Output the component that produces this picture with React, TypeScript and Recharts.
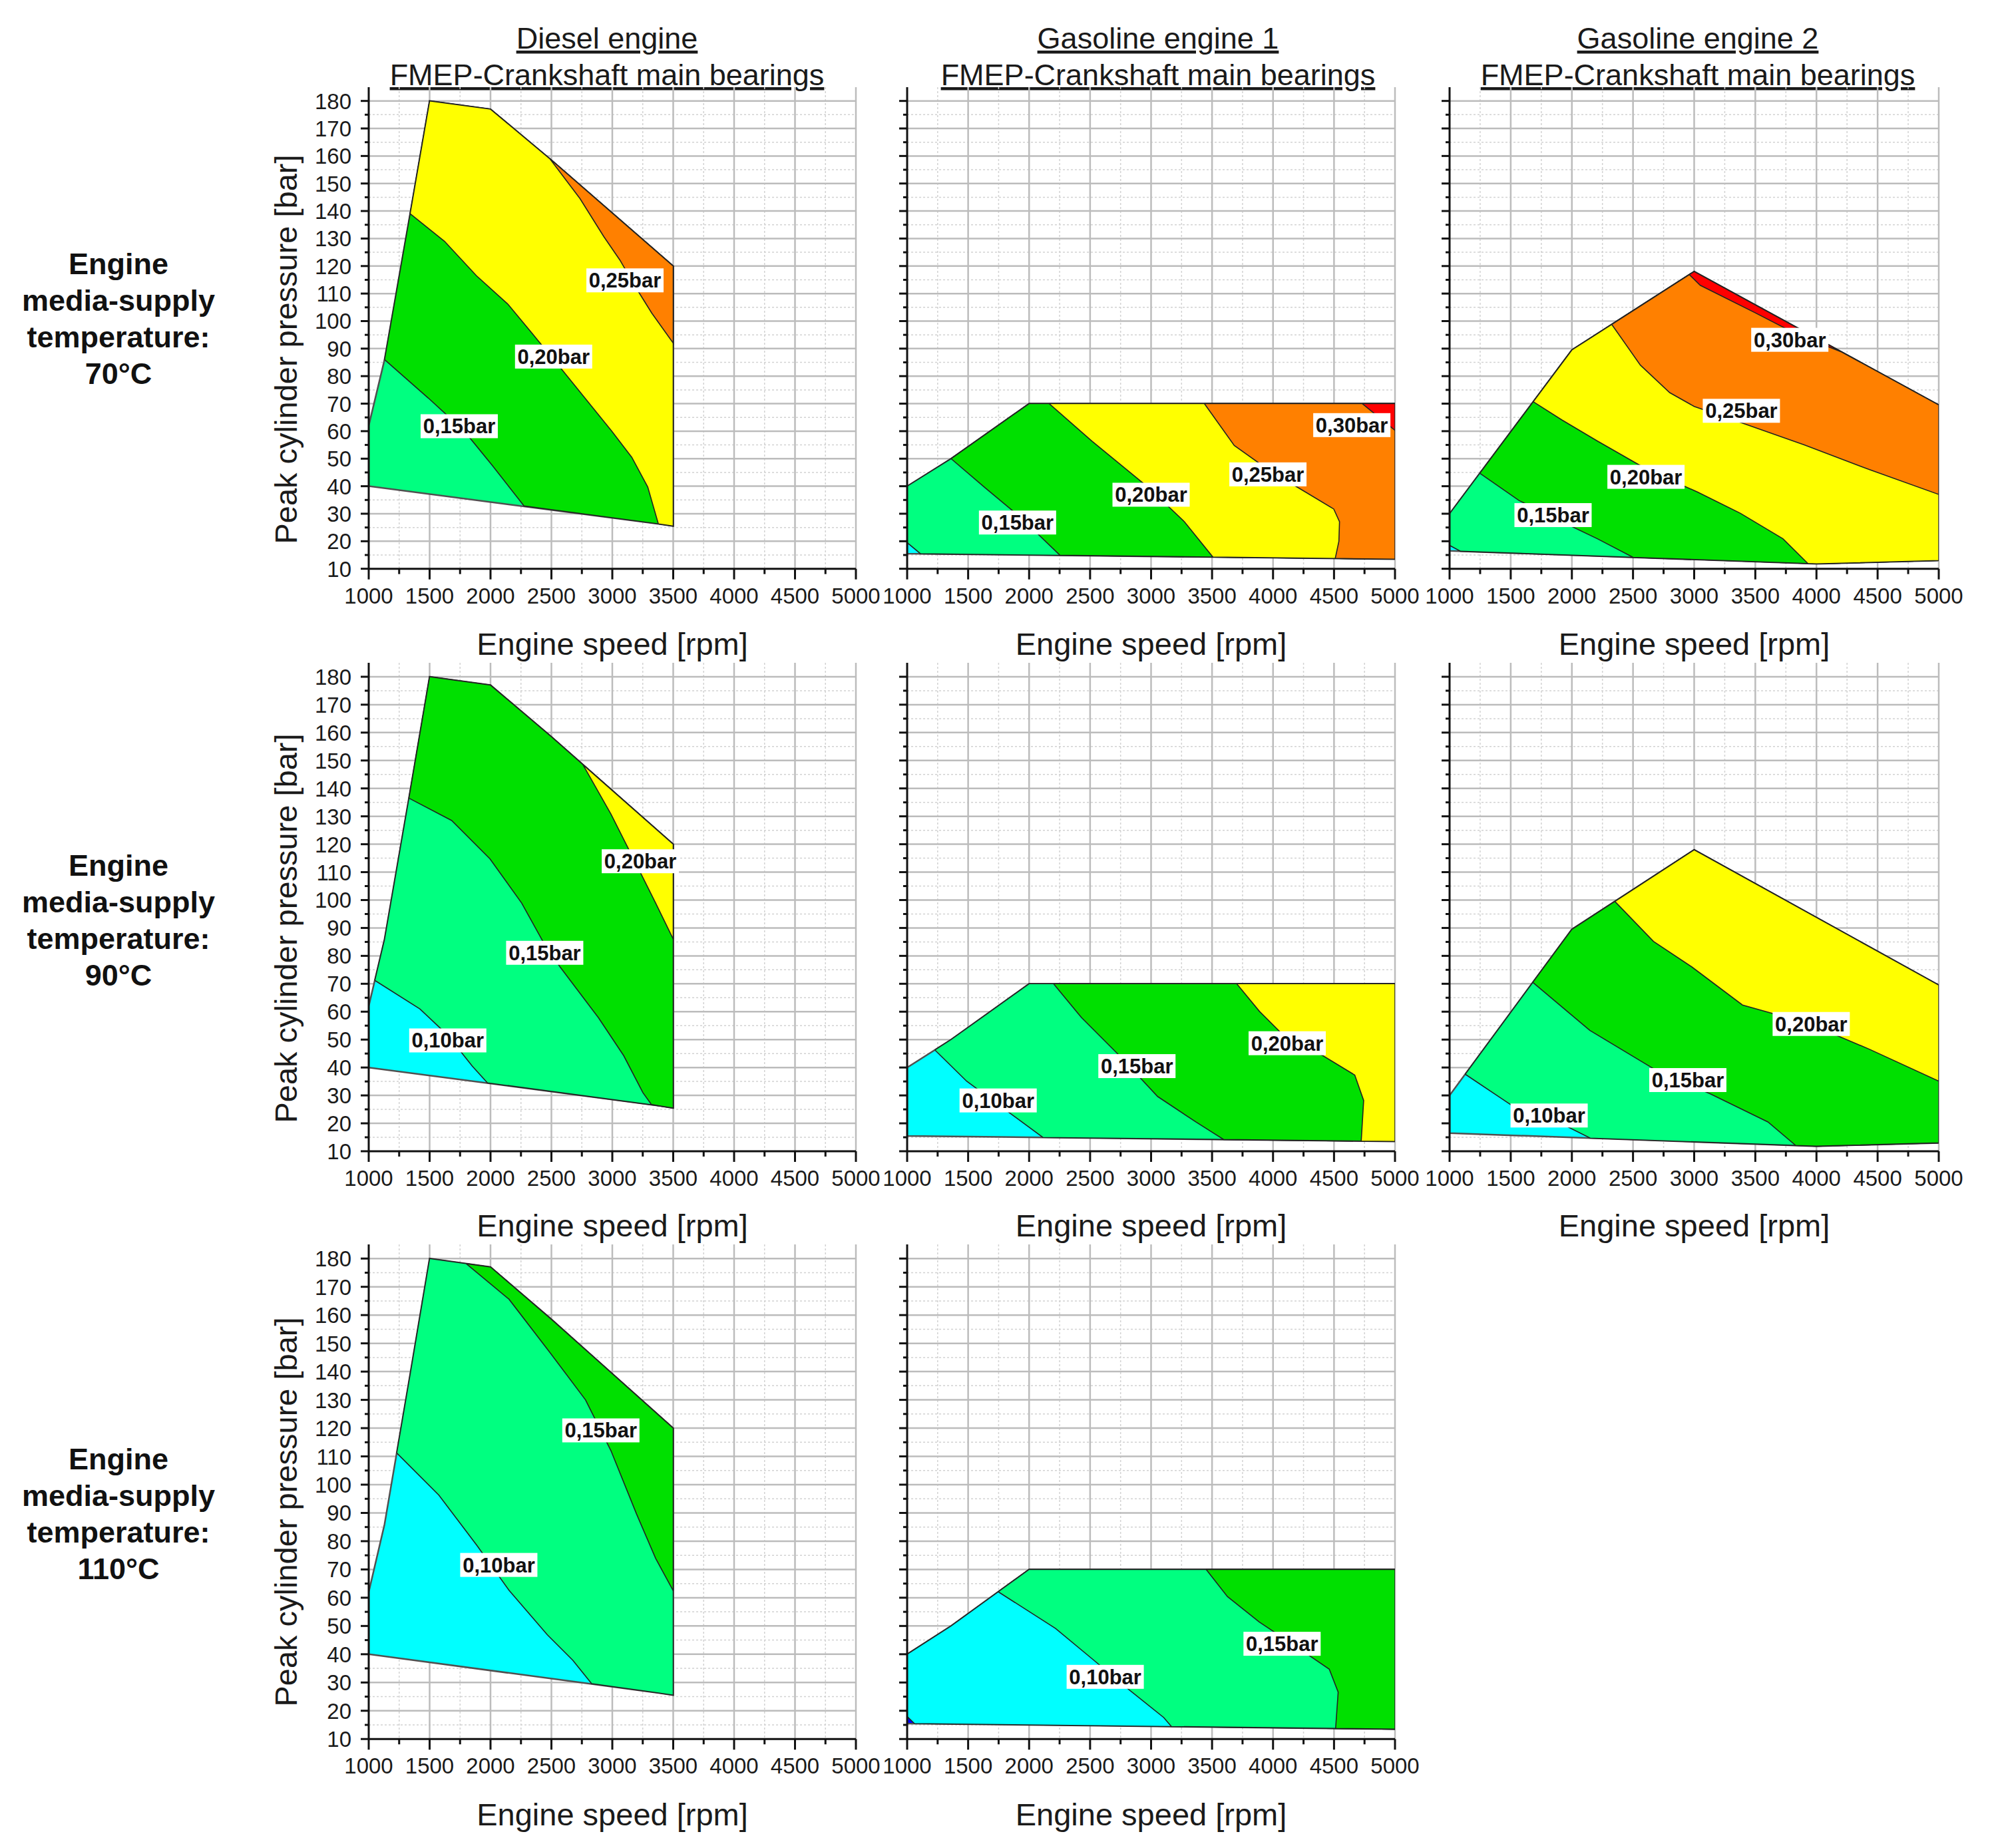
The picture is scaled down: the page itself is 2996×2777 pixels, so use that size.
import React from "react";
import { ComposedChart, Area, Scatter, XAxis, YAxis, CartesianGrid } from "recharts";

type Pt = [number, number];

const FONT = "'Liberation Sans', Arial, Helvetica, sans-serif";

// axis ticks
const speedTicks = [1000, 1500, 2000, 2500, 3000, 3500, 4000, 4500, 5000];
const speedMinor = [1250, 1750, 2250, 2750, 3250, 3750, 4250, 4750];
const pressureTicks = [10, 20, 30, 40, 50, 60, 70, 80, 90, 100, 110, 120, 130, 140, 150, 160, 170, 180];
const pressureMinor = [15, 25, 35, 45, 55, 65, 75, 85, 95, 105, 115, 125, 135, 145, 155, 165, 175];

const titles = [
  ["Diesel engine", "FMEP-Crankshaft main bearings"],
  ["Gasoline engine 1", "FMEP-Crankshaft main bearings"],
  ["Gasoline engine 2", "FMEP-Crankshaft main bearings"],
];
const temps = ["70°C", "90°C", "110°C"];

// measured map outlines (rpm, bar), counter-clockwise from bottom-left
const dieselEdge: Pt[] = [[1000, 40], [3380, 26.3], [3500, 25.5], [3500, 120], [2500, 158.5], [2000, 177], [1500, 180], [1340, 139], [1130, 86], [1000, 62]];
const gas1Edge: Pt[] = [[1000, 15.5], [5000, 13.5], [5000, 70], [2000, 70], [1360, 50], [1000, 40]];
const gas2Edge: Pt[] = [[1000, 16.5], [4000, 11.8], [5000, 13], [5000, 69.5], [3000, 118], [2000, 89.5], [1000, 30]];

// iso-FMEP lines, diesel
const d70c15: Pt[] = [[1130, 86], [1490, 72], [1785, 60], [2015, 47.5], [2276, 32.8]];
const d70c20: Pt[] = [[1340, 139], [1622, 129], [1884, 116.5], [2146, 106], [2342, 95.5], [2538, 85], [2767, 72.5], [2996, 60], [3160, 50.5], [3291, 39.7], [3378, 26.3]];
const d70c25: Pt[] = [[2489, 158.9], [2735, 144.5], [2930, 130.7], [3062, 122.2], [3193, 112.2], [3324, 102.9], [3500, 92]];
const d90c10: Pt[] = [[1050, 71.2], [1420, 61], [1650, 51.5], [1850, 40.5], [1975, 34.5]];
const d90c15: Pt[] = [[1330, 136.5], [1681, 128.5], [1995, 114.8], [2256, 98.9], [2445, 84], [2570, 76.1], [2885, 57.9], [3094, 44.2], [3251, 31], [3320, 26.8]];
const d90c20: Pt[] = [[2759, 148.5], [2989, 130.8], [3199, 112.6], [3356, 98.9], [3500, 86]];
const d110c10: Pt[] = [[1230, 111.2], [1576, 96.3], [1890, 78.4], [2152, 62.6], [2466, 46.9], [2675, 37.9], [2830, 29.6]];
const d110c15: Pt[] = [[1800, 178.2], [2152, 165.6], [2466, 148], [2780, 130], [2989, 112], [3199, 89.6], [3356, 73.9], [3500, 62.5]];

// gasoline engine 1
const g70c10: Pt[] = [[1000, 19.5], [1110, 15.45]];
const g70c15: Pt[] = [[1360, 50], [1640, 39.4], [1932, 28.6], [2253, 14.9]];
const g70c20: Pt[] = [[2165, 70], [2515, 56.4], [2982, 39.4], [3273, 27.1], [3507, 14.25]];
const g70c25: Pt[] = [[3437, 70], [3682, 54.8], [3974, 45.6], [4265, 37.9], [4498, 31.7], [4545, 27.1], [4540, 20], [4510, 13.75]];
const g70c30: Pt[] = [[4732, 70], [5000, 60.3]];
const g90c10: Pt[] = [[1227, 46.3], [1488, 35.1], [1801, 25], [2113, 14.95]];
const g90c15: Pt[] = [[2200, 70], [2429, 57.9], [2742, 44.2], [3054, 29.6], [3367, 20.5], [3596, 14.2]];
const g90c20: Pt[] = [[3702, 70], [3889, 60.1], [4098, 51], [4410, 44.2], [4670, 37.3], [4743, 28.2], [4723, 13.64]];
const g110c05: Pt[] = [[1000, 18], [1060, 15.47]];
const g110c10: Pt[] = [[1747, 62.1], [2217, 49.1], [2530, 37.9], [2843, 26.6], [3104, 17.6], [3167, 14.42]];
const g110c15: Pt[] = [[3452, 70], [3626, 60.4], [3887, 51.4], [4200, 42.4], [4461, 34.7], [4534, 26.6], [4513, 13.74]];

// gasoline engine 2
const h70c10: Pt[] = [[1000, 18.5], [1090, 16.36]];
const h70c15: Pt[] = [[1247, 44.7], [1568, 34.8], [1918, 27.1], [2209, 20.9], [2500, 14.15]];
const h70c20: Pt[] = [[1684, 70.7], [1918, 64.1], [2209, 56.4], [2618, 46], [3026, 37.9], [3376, 30.2], [3726, 20.9], [3930, 11.9]];
const h70c25: Pt[] = [[2326, 98.8], [2560, 84], [2800, 74], [3000, 69], [3390, 63], [3900, 55], [4435, 46], [5000, 37]];
const h70c30: Pt[] = [[2960, 116.9], [3050, 113], [3500, 103], [3850, 95], [4200, 88.9]];
const h90c10: Pt[] = [[1128, 37.6], [1523, 26], [1887, 20.5], [2150, 14.7]];
const h90c15: Pt[] = [[1680, 70.5], [2147, 53.3], [2667, 39.6], [3135, 30.5], [3603, 20.5], [3830, 12.07]];
const h90c20: Pt[] = [[2352, 99.5], [2667, 85.2], [2979, 76.1], [3395, 62.4], [3946, 55.6], [4435, 46.5], [5000, 35.1]];

// contour labels
const d70Labels = [{ x: 1743, y: 61.8, text: "0,15bar" }, { x: 2518, y: 87.1, text: "0,20bar" }, { x: 3104, y: 114.8, text: "0,25bar" }];
const d90Labels = [{ x: 1649, y: 49.7, text: "0,10bar" }, { x: 2445, y: 81.1, text: "0,15bar" }, { x: 3230, y: 113.9, text: "0,20bar" }];
const d110Labels = [{ x: 2068, y: 71.6, text: "0,10bar" }, { x: 2906, y: 119.2, text: "0,15bar" }];
const g70Labels = [{ x: 1905, y: 26.8, text: "0,15bar" }, { x: 3000, y: 36.9, text: "0,20bar" }, { x: 3958, y: 44.3, text: "0,25bar" }, { x: 4646, y: 62.2, text: "0,30bar" }];
const g90Labels = [{ x: 1746, y: 28.2, text: "0,10bar" }, { x: 2884, y: 40.5, text: "0,15bar" }, { x: 4116, y: 48.7, text: "0,20bar" }];
const g110Labels = [{ x: 2624, y: 32.0, text: "0,10bar" }, { x: 4074, y: 43.7, text: "0,15bar" }];
const h70Labels = [{ x: 1846, y: 29.5, text: "0,15bar" }, { x: 2606, y: 43.4, text: "0,20bar" }, { x: 3386, y: 67.4, text: "0,25bar" }, { x: 3782, y: 93.2, text: "0,30bar" }];
const h90Labels = [{ x: 1814, y: 22.8, text: "0,10bar" }, { x: 2948, y: 35.5, text: "0,15bar" }, { x: 3957, y: 55.6, text: "0,20bar" }];

const FILL: Record<string, string> = {
  blue: "#0000ff",
  cyan: "#00ffff",
  mint: "#00ff80",
  green: "#00e000",
  yellow: "#ffff00",
  orange: "#ff8000",
  red: "#ff0000",
};

type Band = [Pt[], number, number, string];
const panels: { row: number; col: number; edge: Pt[]; base: string; bands: Band[]; labels: { x: number; y: number; text: string }[] }[] = [
  { row: 0, col: 0, edge: dieselEdge, base: "mint", bands: [[d70c15, 1, 7, "green"], [d70c20, 1, 6, "yellow"], [d70c25, 3, 4, "orange"]], labels: d70Labels },
  { row: 0, col: 1, edge: gas1Edge, base: "cyan", bands: [[g70c10, 1, 5, "mint"], [g70c15, 1, 3, "green"], [g70c20, 1, 2, "yellow"], [g70c25, 1, 2, "orange"], [g70c30, 2, 2, "red"]], labels: g70Labels },
  { row: 0, col: 2, edge: gas2Edge, base: "cyan", bands: [[h70c10, 1, 6, "mint"], [h70c15, 1, 5, "green"], [h70c20, 1, 5, "yellow"], [h70c25, 3, 4, "orange"], [h70c30, 4, 4, "red"]], labels: h70Labels },
  { row: 1, col: 0, edge: dieselEdge, base: "cyan", bands: [[d90c10, 1, 8, "mint"], [d90c15, 1, 7, "green"], [d90c20, 3, 3, "yellow"]], labels: d90Labels },
  { row: 1, col: 1, edge: gas1Edge, base: "cyan", bands: [[g90c10, 1, 4, "mint"], [g90c15, 1, 2, "green"], [g90c20, 1, 2, "yellow"]], labels: g90Labels },
  { row: 1, col: 2, edge: gas2Edge, base: "cyan", bands: [[h90c10, 1, 5, "mint"], [h90c15, 1, 5, "green"], [h90c20, 3, 4, "yellow"]], labels: h90Labels },
  { row: 2, col: 0, edge: dieselEdge, base: "cyan", bands: [[d110c10, 1, 7, "mint"], [d110c15, 3, 5, "green"]], labels: d110Labels },
  { row: 2, col: 1, edge: gas1Edge, base: "blue", bands: [[g110c05, 1, 5, "cyan"], [g110c10, 1, 3, "mint"], [g110c15, 1, 2, "green"]], labels: g110Labels },
];

// page layout (px)
const ROWS = [
  { y180: 152, y10: 855 },
  { y180: 1017, y10: 1730 },
  { y180: 1891, y10: 2613 },
];
const COLS = [
  { x0: 554, x1: 1286 },
  { x0: 1363, x1: 2096 },
  { x0: 2178, x1: 2913 },
];
const titleX = [912, 1740, 2551];
const rowLabelY = [412, 1316, 2208];
const yLabelY = [525, 1395, 2272];
const xLabelY = [984, 1858, 2743];

// close a band: iso-line, then the outline from vertex `from` to `to`
function band(line: Pt[], edge: Pt[], from: number, to: number): Pt[] {
  const ring = [...line];
  for (let i = from; ; i = (i + 1) % edge.length) {
    ring.push(edge[i]);
    if (i === to) break;
  }
  ring.push(line[0]);
  return ring;
}

const rows = (ring: Pt[]) => ring.map(([x, y]) => ({ x, y }));

const allSpeed = [...speedTicks, ...speedMinor].sort((a, b) => a - b);
const allPressure = [...pressureTicks, ...pressureMinor].sort((a, b) => a - b);

function SpeedTick(props: any) {
  const { x, y, payload } = props;
  const major = speedTicks.includes(payload.value);
  return (
    <g>
      <line x1={x} x2={x} y1={y} y2={y + (major ? 16 : 8)} stroke="#111" strokeWidth={3} />
      {major && (
        <text x={x} y={y + 52} textAnchor="middle" fontSize={33} fill="#1a1a1a" fontFamily={FONT}>
          {payload.value}
        </text>
      )}
    </g>
  );
}

function PressureTick(props: any) {
  const { x, y, payload, showLabel } = props;
  const major = pressureTicks.includes(payload.value);
  return (
    <g>
      <line x1={x - (major ? 12 : 6)} x2={x} y1={y} y2={y} stroke="#111" strokeWidth={3} />
      {major && showLabel && (
        <text x={x - 26} y={y + 12} textAnchor="end" fontSize={33} fill="#1a1a1a" fontFamily={FONT}>
          {payload.value}
        </text>
      )}
    </g>
  );
}

function ContourLabel(props: any) {
  const { cx, cy, payload } = props;
  return (
    <g>
      <rect x={cx - 58} y={cy - 18} width={116} height={36} fill="#fff" />
      <text x={cx} y={cy + 11} textAnchor="middle" fontSize={31} fontWeight="bold" fill="#111" fontFamily={FONT}>
        {payload.text}
      </text>
    </g>
  );
}

function Panel({ cfg }: { cfg: (typeof panels)[number] }) {
  const r = ROWS[cfg.row];
  const c = COLS[cfg.col];
  const ppb = (r.y10 - r.y180) / 170;
  const top = r.y180 - 5 * ppb;
  const plotH = r.y10 - top;
  const plotW = c.x1 - c.x0;
  const YW = 110, MT = 10, MR = 60, XH = 70;

  const polys = [
    { pts: rows([...cfg.edge, cfg.edge[0]]), color: FILL[cfg.base], stroke: "#505050", sw: 2.5 },
    ...cfg.bands.map(([line, from, to, color]) => ({
      pts: rows(band(line, cfg.edge, from, to)),
      color: FILL[color],
      stroke: "#222",
      sw: 1.6,
    })),
  ];

  return (
    <div style={{ position: "absolute", left: c.x0 - YW, top: top - MT }}>
      <ComposedChart width={YW + plotW + MR} height={MT + plotH + XH} margin={{ top: MT, right: MR, left: 0, bottom: 0 }}>
        <CartesianGrid horizontalValues={pressureMinor} verticalValues={speedMinor} stroke="#d2d2d2" strokeDasharray="3 3" strokeWidth={1.5} />
        <CartesianGrid horizontalValues={pressureTicks.slice(1)} verticalValues={speedTicks.slice(1)} stroke="#bcbcbc" strokeWidth={2.5} />
        <XAxis
          type="number"
          dataKey="x"
          domain={[1000, 5000]}
          allowDataOverflow
          ticks={allSpeed}
          interval={0}
          tickSize={0}
          tickMargin={0}
          tickLine={false}
          tick={(p: any) => <SpeedTick {...p} />}
          height={XH}
          axisLine={{ stroke: "#111", strokeWidth: 3 }}
        />
        <YAxis
          type="number"
          dataKey="y"
          domain={[10, 185]}
          allowDataOverflow
          ticks={allPressure}
          interval={0}
          tickSize={0}
          tickMargin={0}
          tickLine={false}
          tick={(p: any) => <PressureTick {...p} showLabel={cfg.col === 0} />}
          width={YW}
          axisLine={{ stroke: "#111", strokeWidth: 3 }}
        />
        {polys.map((p, i) => (
          <Area
            key={i}
            data={p.pts}
            dataKey="y"
            type="linear"
            baseValue={p.pts[0].y}
            fill={p.color}
            fillOpacity={1}
            stroke={p.stroke}
            strokeWidth={p.sw}
            dot={false}
            activeDot={false}
            isAnimationActive={false}
          />
        ))}
        <Scatter data={cfg.labels} shape={(p: any) => <ContourLabel {...p} />} isAnimationActive={false} />
      </ComposedChart>
    </div>
  );
}

export default function App() {
  return (
    <div style={{ position: "absolute", left: 0, top: 0, width: 2996, height: 2777, background: "#fff", fontFamily: FONT }}>
      <svg width={2996} height={2777} style={{ position: "absolute", left: 0, top: 0 }}>
        {titles.map(([a, b], i) => (
          <g key={a} fontSize={45} fill="#1a1a1a" fontFamily={FONT} textAnchor="middle">
            <text x={titleX[i]} y={73} style={{ textDecoration: "underline" }}>{a}</text>
            <text x={titleX[i]} y={128} style={{ textDecoration: "underline" }}>{b}</text>
          </g>
        ))}
        {temps.map((t, i) => (
          <text key={t} x={178} y={rowLabelY[i]} fontSize={45} fontWeight="bold" fill="#111" fontFamily={FONT} textAnchor="middle">
            <tspan x={178} dy={0}>Engine</tspan>
            <tspan x={178} dy={55}>media-supply</tspan>
            <tspan x={178} dy={55}>temperature:</tspan>
            <tspan x={178} dy={55}>{t}</tspan>
          </text>
        ))}
        {yLabelY.map((y, i) => (
          <text key={i} x={446} y={y} transform={`rotate(-90 446 ${y})`} fontSize={47} fill="#1a1a1a" fontFamily={FONT} textAnchor="middle">
            Peak cylinder pressure [bar]
          </text>
        ))}
        {panels.map((p, i) => (
          <text key={i} x={(COLS[p.col].x0 + COLS[p.col].x1) / 2} y={xLabelY[p.row]} fontSize={47} fill="#1a1a1a" fontFamily={FONT} textAnchor="middle">
            Engine speed [rpm]
          </text>
        ))}
      </svg>
      {panels.map((p, i) => (
        <Panel key={i} cfg={p} />
      ))}
    </div>
  );
}
